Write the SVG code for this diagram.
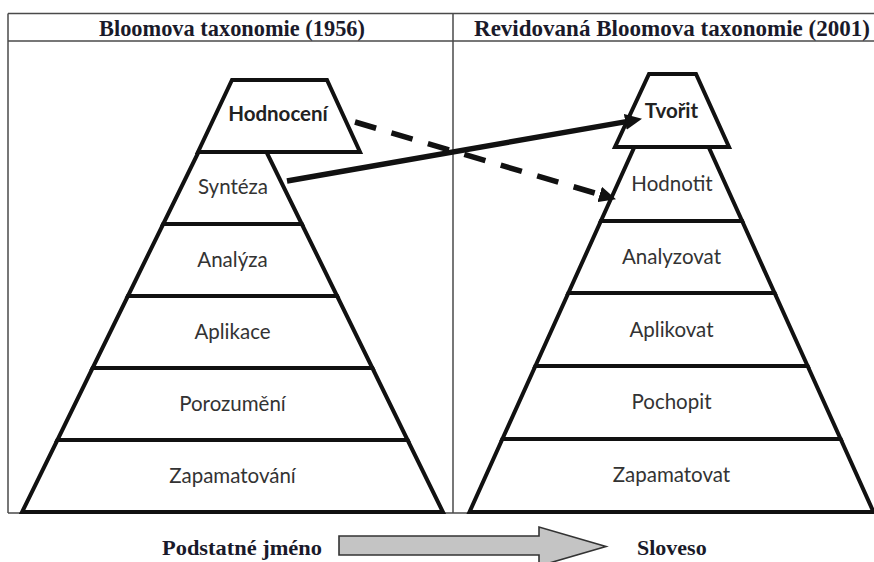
<svg xmlns="http://www.w3.org/2000/svg" width="874" height="562" viewBox="0 0 874 562">
<style>
.frame{stroke:#4a4a4a;stroke-width:1.5;fill:none}
.lvl{fill:#fff;stroke:#111;stroke-width:4;stroke-linejoin:miter}
.hdr{font-family:"Liberation Serif","Times New Roman",serif;font-weight:bold;font-size:22.5px;fill:#1a1a2a;text-anchor:middle}
.bot{font-family:"Liberation Serif","Times New Roman",serif;font-weight:bold;font-size:22px;fill:#1a1a2a}
.lbl{font-family:Lato,"Liberation Sans",sans-serif;font-size:20.5px;fill:#333;text-anchor:middle}
.lblb{font-family:Lato,"Liberation Sans",sans-serif;font-size:20.5px;font-weight:bold;fill:#222;text-anchor:middle}
.conn{stroke:#111;stroke-width:5.5;fill:none}
</style>
<defs>
<marker id="ah" markerUnits="userSpaceOnUse" markerWidth="18" markerHeight="16" refX="4" refY="8" orient="auto">
<path d="M0,0 L17,8 L0,16 z" fill="#111"/>
</marker>
</defs>
<rect width="874" height="562" fill="#fff"/>
<g id="frame">
<line class="frame" x1="8" y1="13.5" x2="874" y2="13.5"/>
<line class="frame" x1="8" y1="41" x2="874" y2="41"/>
<line class="frame" x1="8" y1="13.5" x2="8" y2="513"/>
<line class="frame" x1="453" y1="13.5" x2="453" y2="513"/>
<line class="frame" x1="8" y1="513" x2="874" y2="513"/>
<text class="hdr" x="232" y="36" textLength="266" lengthAdjust="spacingAndGlyphs">Bloomova taxonomie (1956)</text>
<text class="hdr" x="672" y="36" textLength="396" lengthAdjust="spacingAndGlyphs">Revidovaná Bloomova taxonomie (2001)</text>
</g>
<g id="left-pyramid">
<g id="zapamatovani"><polygon class="lvl" points="57.4,440 407.6,440 442.9,512 22.1,512"/><text class="lbl" x="232.5" y="483">Zapamatování</text></g>
<g id="porozumeni"><polygon class="lvl" points="92.6,368 372.4,368 407.6,440 57.4,440"/><text class="lbl" x="232.5" y="411">Porozumění</text></g>
<g id="aplikace"><polygon class="lvl" points="127.9,296 337.1,296 372.4,368 92.6,368"/><text class="lbl" x="232.5" y="339">Aplikace</text></g>
<g id="analyza"><polygon class="lvl" points="163.2,224 301.8,224 337.1,296 127.9,296"/><text class="lbl" x="232.5" y="267">Analýza</text></g>
<g id="synteza"><polygon class="lvl" points="198.5,152 266.5,152 301.8,224 163.2,224"/><text class="lbl" x="233" y="194">Syntéza</text></g>
<g id="hodnoceni"><polygon class="lvl" points="232,80 327,80 360,152 198,152"/><text class="lblb" x="278" y="121">Hodnocení</text></g>
</g>
<g id="right-pyramid">
<g id="zapamatovat"><polygon class="lvl" points="502.4,439 840.6,439 873.5,512 469.5,512"/><text class="lbl" x="671.5" y="482">Zapamatovat</text></g>
<g id="pochopit"><polygon class="lvl" points="535.4,366 807.6,366 840.6,439 502.4,439"/><text class="lbl" x="671.5" y="409">Pochopit</text></g>
<g id="aplikovat"><polygon class="lvl" points="568.4,293 774.6,293 807.6,366 535.4,366"/><text class="lbl" x="671.5" y="337">Aplikovat</text></g>
<g id="analyzovat"><polygon class="lvl" points="600.9,221 742.1,221 774.6,293 568.4,293"/><text class="lbl" x="671.5" y="264">Analyzovat</text></g>
<g id="hodnotit"><polygon class="lvl" points="634.4,147 708.6,147 742.1,221 600.9,221"/><text class="lbl" x="672" y="191">Hodnotit</text></g>
<g id="tvorit"><polygon class="lvl" points="649,74 696,74 729,147 615,147"/><text class="lblb" x="671.5" y="118">Tvořit</text></g>
</g>
<g id="connectors">
<line class="conn" x1="287" y1="181" x2="629.2" y2="121.1" marker-end="url(#ah)"/>
<line class="conn" x1="355" y1="122" x2="603.5" y2="195.6" stroke-dasharray="22 16" marker-end="url(#ah)"/>
</g>
<g id="direction">
<polygon points="339,536 539,536 539,527 606,546.5 539,566 539,555 339,555" fill="#c4c4c4" stroke="#333" stroke-width="1.6"/>
<text class="bot" x="162" y="555" textLength="160" lengthAdjust="spacingAndGlyphs">Podstatné jméno</text>
<text class="bot" x="637" y="555">Sloveso</text>
</g>
</svg>
